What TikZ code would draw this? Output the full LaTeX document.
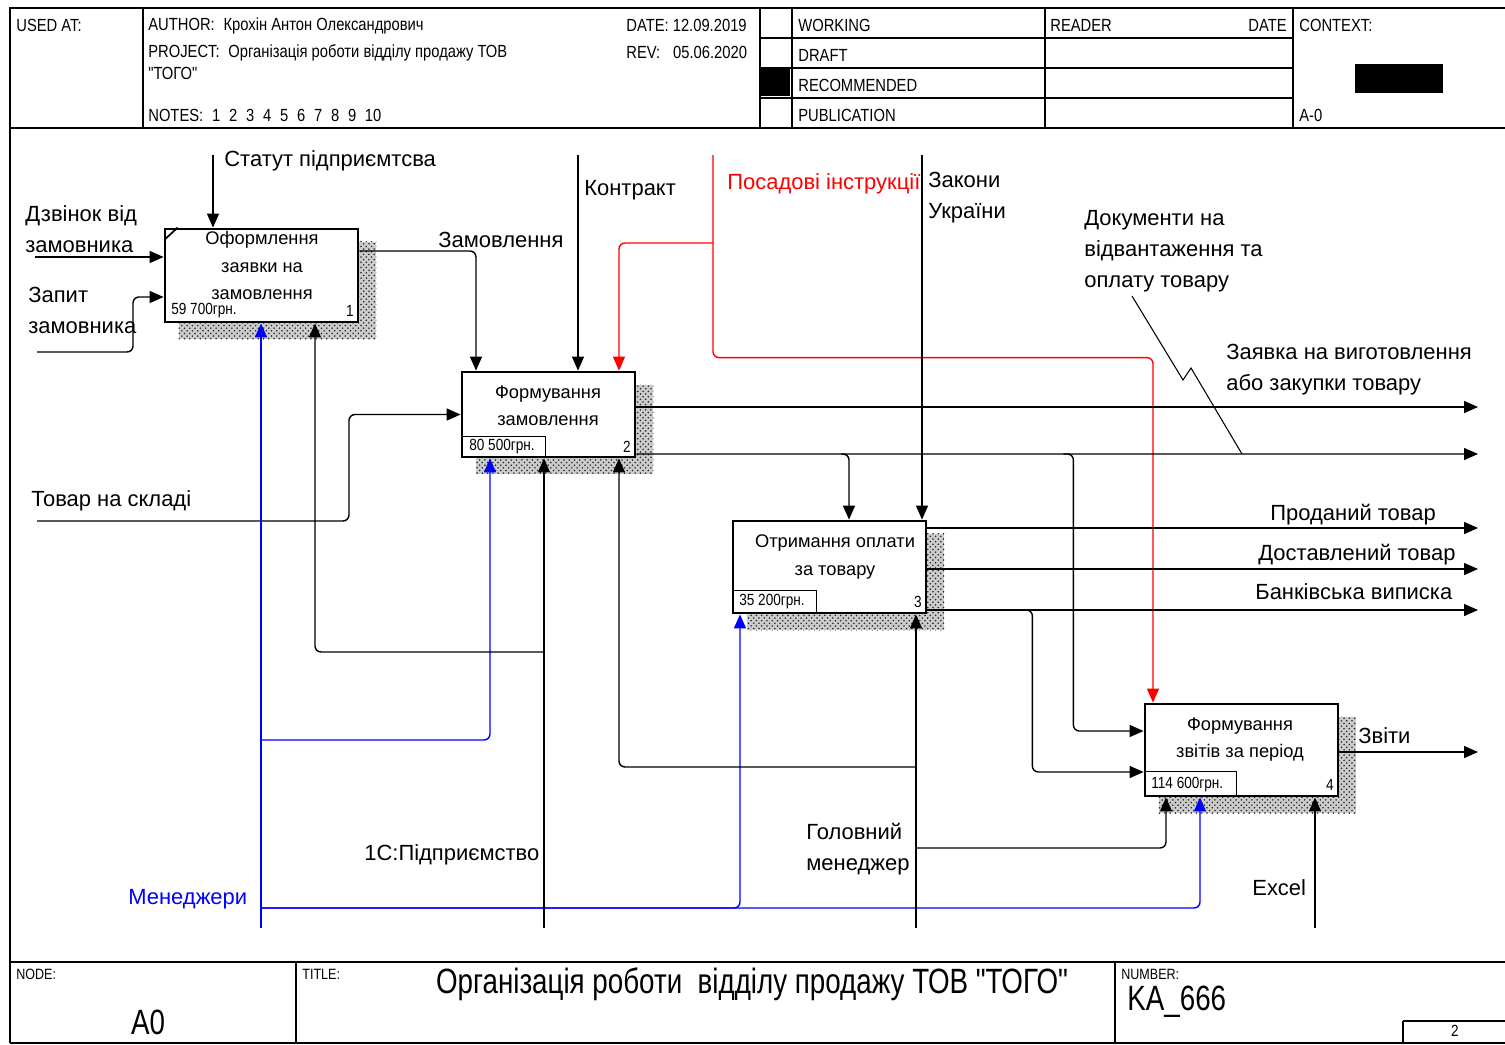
\documentclass[tikz,border=0pt]{standalone}
\usepackage{fontspec}
\setmainfont{Liberation Sans}
\newfontfamily\narrowfont{Liberation Sans}[FakeStretch=0.84]
\newfontfamily\titlefont{Liberation Sans}[FakeStretch=0.79]
\usepackage{tikz}
\usetikzlibrary{arrows.meta, calc, patterns, backgrounds}
\definecolor{cBlue}{RGB}{0,0,255}
\definecolor{cRed}{RGB}{255,0,0}
\newcommand{\arrlblfont}{\fontsize{12.5}{17.6}\selectfont}
\newcommand{\actfont}{\fontsize{10.4}{15.6}\selectfont}
\newcommand{\hdrfont}{\narrowfont\fontsize{10}{12}\selectfont}
\newcommand{\costfont}{\narrowfont\fontsize{9.2}{10}\selectfont}
\tikzset{
	actbox/.style={rectangle, draw=black, line width=1.6pt, fill=white, inner sep=0pt},
	actshade/.style={fill=gray!40, postaction={pattern=crosshatch dots, pattern color=black!85}},
	acttext/.style={align=center, font=\actfont, inner sep=0pt},
	cost/.style={font=\costfont, inner sep=0pt},
	flow/.style={line width=0.8pt, rounded corners=1.2mm},
	flowarrow/.style={flow, -{Triangle[length=2.8mm, width=2.4mm]}},
	arrlbl/.style={font=\arrlblfont, align=left, anchor=west, inner sep=0pt, yshift=-0.5mm},
	hdr/.style={font=\hdrfont, anchor=west, inner sep=0pt, yshift=-0.3mm},
	frameline/.style={line width=0.9pt},
}

\begin{document}
\begin{tikzpicture}[x=0.02cm, y=-0.02cm]
	\useasboundingbox (0,0) rectangle (1505,1045);
	% form frame
	\draw[frameline] (10,1043) -- (10,8) -- (1505,8);
	\draw[frameline] (10,128) -- (1505,128);
	\draw[frameline] (10,962) -- (1505,962);
	\draw[frameline] (10,1043) -- (1505,1043);
	\foreach \xx in {143,760,792,1045,1293}
		\draw[frameline] (\xx,8) -- (\xx,128);
	\foreach \yy in {38,68,98}
		\draw[frameline] (760,\yy) -- (1293,\yy);
	\fill (760,68) rectangle (790,96);
	\fill (1355,64) rectangle (1443,93);
	\draw[frameline] (296,962) -- (296,1043);
	\draw[frameline] (1115,962) -- (1115,1043);
	\draw[frameline] (1505,1043) -- (1403,1043) -- (1403,1021);
	\draw[line width=1.6pt] (1403,1021) -- (1505,1021);
	% header texts
	\node[hdr] (usedat) at (16,24) {USED AT:};
	\node[hdr] (author) at (148,24) {AUTHOR:\enspace Крохін Антон Олександрович};
	\node[hdr] (date) at (626,24) {DATE:\ 12.09.2019};
	\node[hdr] (project) at (148,51) {PROJECT:\enspace Організація роботи відділу продажу ТОВ};
	\node[hdr] (project2) at (148,72) {"ТОГО"};
	\node[hdr] (rev) at (626,51) {REV:\enspace\ 05.06.2020};
	\node[hdr] (notes) at (148,114) {NOTES:\enspace 1\enspace 2\enspace 3\enspace 4\enspace 5\enspace 6\enspace 7\enspace 8\enspace 9\enspace 10};
	\node[hdr] (working) at (798,24) {WORKING};
	\node[hdr] (draft) at (798,54) {DRAFT};
	\node[hdr] (recom) at (798,84) {RECOMMENDED};
	\node[hdr] (public) at (798,114) {PUBLICATION};
	\node[hdr] (reader) at (1050,24) {READER};
	\node[hdr, anchor=east] (rdate) at (1287,24) {DATE};
	\node[hdr] (context) at (1299,24) {CONTEXT:};
	\node[hdr] (ctxnode) at (1299,114) {A-0};
	% footer texts
	\node[hdr, font=\narrowfont\fontsize{8.5}{10}\selectfont] (nodehd) at (16,973) {NODE:};
	\node[font=\titlefont\fontsize{20}{24}\selectfont, inner sep=0pt] (nodeno) at (148,1022) {A0};
	\node[hdr, font=\narrowfont\fontsize{8.5}{10}\selectfont] (titlehd) at (302,973) {TITLE:};
	\node[font=\titlefont\fontsize{20}{24}\selectfont, inner sep=0pt] (title) at (752,984) {Організація роботи\ \ відділу продажу ТОВ "ТОГО"};
	\node[hdr, font=\narrowfont\fontsize{8.5}{10}\selectfont] (numhd) at (1121,973) {NUMBER:};
	\node[anchor=west, font=\titlefont\fontsize{20}{24}\selectfont, inner sep=0pt] (number) at (1127,1002) {KA\_666};
	\node[font=\costfont, inner sep=0pt] (page) at (1455,1031) {2};

	% activity boxes
	\node[actbox, minimum width=3.86cm, minimum height=1.86cm] (a1) at (261.5,275.5) {};
	\node[actbox, minimum width=3.46cm, minimum height=1.70cm] (a2) at (548.5,414.5) {};
	\node[actbox, minimum width=3.86cm, minimum height=1.84cm] (a3) at (829.5,567) {};
	\node[actbox, minimum width=3.86cm, minimum height=1.84cm] (a4) at (1241.5,750) {};
	\begin{scope}[on background layer]
		\foreach \bx in {a1,a2,a3,a4}
			\fill[actshade] ($(\bx.north west)+(15,14)$) rectangle ($(\bx.south east)+(17,16)$);
	\end{scope}
	\draw[line width=1pt] ($(a1.north west)+(1,12)$) -- ($(a1.north west)+(14,0)$);
	\node[acttext] (a1txt) at (262,265.5) {Оформлення\\заявки на\\замовлення};
	\node[acttext] (a2txt) at (548,405.5) {Формування\\замовлення};
	\node[acttext] (a3txt) at (835,557) {Отримання оплати\\за товару};
	\node[acttext] (a4txt) at (1240,739.5) {Формування\\звітів за період};
	\draw[line width=0.6pt] ($(a2.south west)+(0,-22)$) -| ($(a2.south west)+(85,0)$);
	\draw[line width=0.6pt] ($(a3.south west)+(0,-24)$) -| ($(a3.south west)+(85,0)$);
	\draw[line width=0.6pt] ($(a4.south west)+(0,-26)$) -| ($(a4.south west)+(93,0)$);
	\node[cost, anchor=west] (a1cost) at (171,311) {59 700грн.};
	\node[cost, anchor=east] (a1num) at (354,311) {1};
	\node[cost, anchor=west] (a2cost) at (469,447) {80 500грн.};
	\node[cost, anchor=east] (a2num) at (631,447) {2};
	\node[cost, anchor=west] (a3cost) at (739,602) {35 200грн.};
	\node[cost, anchor=east] (a3num) at (922,602) {3};
	\node[cost, anchor=west] (a4cost) at (1151,785) {114 600грн.};
	\node[cost, anchor=east] (a4num) at (1334,785) {4};

	% free ends of the arrows
	\coordinate (inStat) at (213,155);
	\coordinate (inCall) at (35,257);
	\coordinate (inReq) at (37,352);
	\coordinate (inContr) at (578,155);
	\coordinate (inPos) at (713,155);
	\coordinate (inLaw) at (922,155);
	\coordinate (inStock) at (37,521);
	\coordinate (outOrd) at (1478,407);
	\coordinate (outDoc) at (1478,454);
	\coordinate (outSold) at (1478,528);
	\coordinate (outDeliv) at (1478,569);
	\coordinate (outBank) at (1478,610);
	\coordinate (outRep) at (1478,752);
	\coordinate (mMan) at (261,928);
	\coordinate (m1C) at (544,928);
	\coordinate (mHead) at (916,928);
	\coordinate (mExcel) at (1315,928);

	% inputs and controls
	\draw[flowarrow] (inStat) -- (inStat |- a1.north);
	\draw[flowarrow] (inCall) -- (inCall -| a1.west);
	\draw[flowarrow] (inReq) -| ++(96,-55) -- ($(a1.west)+(0,21.5)$);
	\draw[flowarrow] ($(a1.east)+(0,-24.5)$) -| ($(a2.north)+(-72.5,0)$);
	\draw[flowarrow] (inContr) -- (inContr |- a2.north);
	\draw[flowarrow, cRed] (inPos) |- ($(a4.north)+(-88.5,-345)$) -- ($(a4.north)+(-88.5,0)$);
	\draw[flowarrow, cRed] ($(inPos)+(0,88)$) -| ($(a2.north)+(70.5,0)$);
	\draw[flowarrow] (inLaw) -- (inLaw |- a3.north);
	\draw[flowarrow] (inStock) -| ++(312,-106.5) -- (a2.west);

	% outputs
	\draw[flowarrow] ($(a2.east)+(0,-7.5)$) -- (outOrd);
	\draw[flowarrow] ($(a2.east)+(0,39.5)$) -- (outDoc);
	\draw[flowarrow] ($(a2.east)+(205,39.5)$) -| ($(a3.north)+(19.5,0)$);
	\draw[flowarrow] ($(a2.east)+(427,39.5)$) -| ++(10,277) -- ($(a4.west)+(0,-19)$);
	\draw[flowarrow] ($(a3.east)+(0,-39)$) -- (outSold);
	\draw[flowarrow] ($(a3.east)+(0,2)$) -- (outDeliv);
	\draw[flowarrow] ($(a3.east)+(0,43)$) -- (outBank);
	\draw[flowarrow] ($(a3.east)+(97,43)$) -| ++(8,162) -- ($(a4.west)+(0,22)$);
	\draw[flowarrow] ($(a4.east)+(0,2)$) -- (outRep);

	% mechanisms
	\draw[flowarrow, cBlue] (mMan) -- (mMan |- a1.south);
	\draw[flowarrow, cBlue] ($(mMan)+(0,-188)$) -| ($(a2.south)+(-58.5,0)$);
	\draw[flowarrow, cBlue] ($(mMan)+(0,-20)$) -| ($(a3.south)+(-89.5,0)$);
	\draw[flowarrow, cBlue] ($(mMan)+(0,-20)$) -| ($(a4.south)+(-41.5,0)$);
	\draw[flowarrow] (m1C) -- (m1C |- a2.south);
	\draw[flowarrow] ($(m1C)+(0,-276)$) -| ($(a1.south)+(53.5,0)$);
	\draw[flowarrow] (mHead) -- (mHead |- a3.south);
	\draw[flowarrow] ($(mHead)+(0,-161)$) -| ($(a2.south)+(70.5,0)$);
	\draw[flowarrow] ($(mHead)+(0,-80)$) -| ($(a4.south)+(-75.5,0)$);
	\draw[flowarrow] (mExcel) -- (mExcel |- a4.south);

	% arrow labels
	\node[arrlbl] (lStat) at (224,158) {Статут підприємтсва};
	\node[arrlbl] (lCall) at (25,226.5) {Дзвінок від\\замовника};
	\node[arrlbl] (lReq) at (28,307.5) {Запит\\замовника};
	\node[arrlbl] (lOrder) at (438,237) {Замовлення};
	\node[arrlbl] (lContr) at (584,188) {Контракт};
	\node[arrlbl, text=cRed] (lPos) at (727,181) {Посадові інструкції};
	\node[arrlbl] (lLaw) at (928,195) {Закони\\України};
	\node[arrlbl] (lStock) at (31,498) {Товар на складі};
	\node[arrlbl] (lDoc) at (1084,249) {Документи на\\відвантаження та\\оплату товару};
	\node[arrlbl] (lReqOut) at (1226,367.5) {Заявка на виготовлення\\або закупки товару};
	\node[arrlbl] (lSold) at (1270,512) {Проданий товар};
	\node[arrlbl] (lDeliv) at (1258,552) {Доставлений товар};
	\node[arrlbl] (lBank) at (1255,589) {Банківська виписка};
	\node[arrlbl] (lRep) at (1358,733) {Звіти};
	\node[arrlbl, text=cBlue] (lMan) at (128,897) {Менеджери};
	\node[arrlbl] (l1C) at (364,852) {1С:Підприємство};
	\node[arrlbl] (lHead) at (806,847) {Головний\\менеджер};
	\node[arrlbl] (lExcel) at (1252,885) {Excel};
	\coordinate (docLead) at (1132,296);
	\coordinate (docTip) at (1242,454);
	\draw[line width=0.6pt] (docLead) -- ++(51,84) -- ++(8,-12) -- (docTip);
\end{tikzpicture}
\end{document}
